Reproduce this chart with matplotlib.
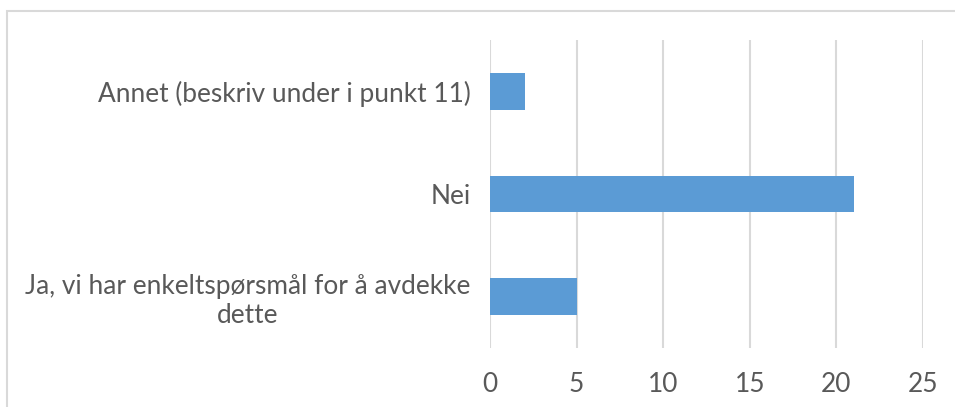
import matplotlib.pyplot as plt
from matplotlib.patches import Rectangle

# Data
categories = ['Ja, vi har enkeltspørsmål for å avdekke\ndette', 'Nei', 'Annet (beskriv under i punkt 11)']
values = [5, 21, 2]
x_ticks = [0, 5, 10, 15, 20, 25]

plt.rcParams['font.family'] = ['Lato', 'DejaVu Sans']

fig = plt.figure(figsize=(9.55, 4.07), dpi=100)

# outer chart border (partially cropped in the reference)
fig.patches.append(Rectangle((7 / 955, -0.1), 1.1, 1 - 11 / 407 + 0.1,
                             transform=fig.transFigure, fill=False,
                             edgecolor='#d9d9d9', linewidth=1.5))

ax = fig.add_axes([490 / 955, 1 - 348 / 407, 433 / 955, 308 / 407])
ax.barh(range(len(categories)), values, height=0.355, color='#5b9bd5', zorder=3)

ax.set_xlim(0, 25)
ax.set_ylim(-0.5, 2.5)
ax.set_xticks(x_ticks)
ax.set_yticks(range(len(categories)))
ax.set_yticklabels(categories)
ax.grid(axis='x', color='#d9d9d9', linewidth=1.5, zorder=0)

for s in ax.spines.values():
    s.set_visible(False)
ax.tick_params(axis='both', length=0, labelsize=18.9, labelcolor='#595959')
ax.tick_params(axis='x', pad=17)
ax.tick_params(axis='y', pad=14)

# centre the lines of the wrapped category label
for lab in ax.get_yticklabels():
    lab.set_multialignment('center')

fig.savefig('out.png', dpi=100)
